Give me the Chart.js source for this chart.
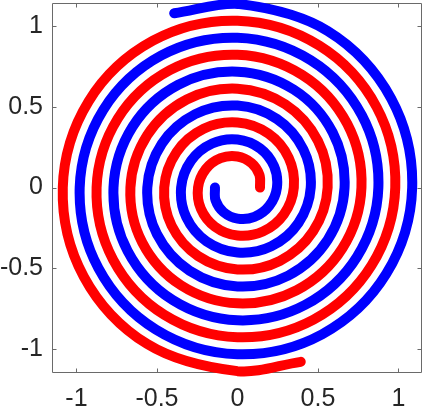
<!DOCTYPE html>
<html>
<head>
<meta charset="utf-8">
<script src="https://cdn.jsdelivr.net/npm/chart.js@4.4.1/dist/chart.umd.min.js"></script>
<style>
  html, body { margin: 0; padding: 0; background: #ffffff; }
  #wrap { width: 423px; height: 408px; position: relative; }
</style>
</head>
<body>
<div id="wrap"><canvas id="c"></canvas></div>
<script>
// Red spiral points (inner end -> outer end)
const redX = [0.140, 0.1364, 0.0875, 0, -0.105, -0.197, -0.245, -0.2273, -0.14, 0, 0.1575, 0.288,
  0.35, 0.3183, 0.1925, 0, -0.21, -0.3789, -0.455, -0.4092, -0.245, 0, 0.2625, 0.4698,
  0.56, 0.5001, 0.2975, 0, -0.315, -0.5607, -0.665, -0.5911, -0.35, 0, 0.3675, 0.6517,
  0.77, 0.682, 0.4025, 0, -0.42, -0.7426, -0.875, -0.7729, -0.455, 0, 0.4725, 0.8335,
  0.98, 0.8639, 0.5075, 0, -0.525, -0.9245, -1.085, -0.9548, -0.56, 0, 0.393];
const redY = [0, 0.0788, 0.1516, 0.1925, 0.1819, 0.1138, 0, -0.1313, -0.2425, -0.2975, -0.2728, -0.1663,
  0, 0.1838, 0.3334, 0.4025, 0.3637, 0.2188, 0, -0.2363, -0.4244, -0.5075, -0.4547, -0.2713,
  0, 0.2888, 0.5153, 0.6125, 0.5456, 0.3238, 0, -0.3413, -0.6062, -0.7175, -0.6365, -0.3763,
  0, 0.3938, 0.6971, 0.8225, 0.7275, 0.4288, 0, -0.4463, -0.7881, -0.9275, -0.8184, -0.4813,
  0, 0.4988, 0.879, 1.0325, 0.9093, 0.5338, 0, -0.5513, -0.9699, -1.1375, -1.0799];
// Blue spiral points (inner end -> outer end)
const blueX = [-0.140, -0.1364, -0.0875, 0, 0.105, 0.197, 0.245, 0.2273, 0.14, 0, -0.1575, -0.288,
  -0.35, -0.3183, -0.1925, 0, 0.21, 0.3789, 0.455, 0.4092, 0.245, 0, -0.2625, -0.4698,
  -0.56, -0.5001, -0.2975, 0, 0.315, 0.5607, 0.665, 0.5911, 0.35, 0, -0.3675, -0.6517,
  -0.77, -0.682, -0.4025, 0, 0.42, 0.7426, 0.875, 0.7729, 0.455, 0, -0.4725, -0.8335,
  -0.98, -0.8639, -0.5075, 0, 0.525, 0.9245, 1.085, 0.9548, 0.56, 0, -0.393];
const blueY = [0, -0.0788, -0.1516, -0.1925, -0.1819, -0.1138, 0, 0.1313, 0.2425, 0.2975, 0.2728, 0.1663,
  0, -0.1838, -0.3334, -0.4025, -0.3637, -0.2188, 0, 0.2363, 0.4244, 0.5075, 0.4547, 0.2713,
  0, -0.2888, -0.5153, -0.6125, -0.5456, -0.3238, 0, 0.3413, 0.6062, 0.7175, 0.6365, 0.3763,
  0, -0.3938, -0.6971, -0.8225, -0.7275, -0.4288, 0, 0.4463, 0.7881, 0.9275, 0.8184, 0.4813,
  0, -0.4988, -0.879, -1.0325, -0.9093, -0.5338, 0, 0.5513, 0.9699, 1.1375, 1.0799];

const tickValues = [-1, -0.5, 0, 0.5, 1];
const tickLabels = ['-1', '-0.5', '0', '0.5', '1'];
const xRange = [-1.152, 1.146];
const yRange = [-1.149, 1.143];

const toPoints = (xs, ys) => xs.map((x, i) => ({ x: x, y: ys[i] }));

const boxPlugin = {
  id: 'boxTicks',
  beforeDatasetsDraw(chart) {
    const { ctx, chartArea: a, scales } = chart;
    ctx.save();
    ctx.strokeStyle = '#6a6a6a';
    ctx.lineWidth = 1;
    ctx.beginPath();
    const L = Math.round(a.left) + 0.5, R = Math.round(a.right) - 0.5;
    const T = Math.round(a.top) + 0.5, B = Math.round(a.bottom) - 0.5;
    ctx.rect(L, T, R - L, B - T);
    const len = 4;
    tickValues.forEach(v => {
      const px = Math.round(scales.x.getPixelForValue(v)) + 0.5;
      ctx.moveTo(px, B); ctx.lineTo(px, B - len);
      ctx.moveTo(px, T); ctx.lineTo(px, T + len);
      const py = Math.round(scales.y.getPixelForValue(v)) + 0.5;
      ctx.moveTo(L, py); ctx.lineTo(L + len, py);
      ctx.moveTo(R, py); ctx.lineTo(R - len, py);
    });
    ctx.stroke();
    ctx.restore();
  }
};

const tickFont = { family: "'Liberation Sans', Arial, sans-serif", size: 25 };
const labelFor = v => {
  const i = tickValues.findIndex(t => Math.abs(t - v) < 1e-9);
  return i >= 0 ? tickLabels[i] : '';
};

new Chart(document.getElementById('c'), {
  type: 'scatter',
  data: {
    datasets: [
      {
        data: toPoints(redX, redY),
        showLine: true, pointRadius: 0, pointHoverRadius: 0,
        borderColor: 'rgb(255,0,0)', backgroundColor: 'rgb(255,0,0)',
        borderWidth: 10, tension: 0.35,
        borderCapStyle: 'round', borderJoinStyle: 'round', clip: false
      },
      {
        data: toPoints(blueX, blueY),
        showLine: true, pointRadius: 0, pointHoverRadius: 0,
        borderColor: 'rgb(0,0,255)', backgroundColor: 'rgb(0,0,255)',
        borderWidth: 10, tension: 0.35,
        borderCapStyle: 'round', borderJoinStyle: 'round', clip: false
      }
    ]
  },
  options: {
    responsive: true,
    maintainAspectRatio: false,
    devicePixelRatio: 1,
    animation: false,
    layout: { padding: { top: 3, right: 1, bottom: 0, left: 0 } },
    plugins: { legend: { display: false }, tooltip: { enabled: false } },
    scales: {
      x: {
        type: 'linear', position: 'bottom',
        min: xRange[0], max: xRange[1],
        grid: { display: false, drawTicks: false },
        border: { display: false },
        afterBuildTicks: s => { s.ticks = tickValues.map(v => ({ value: v })); },
        afterFit: s => { s.height = 35; s.paddingLeft = 0; s.paddingRight = 0; s.paddingTop = 0; s.paddingBottom = 0; },
        ticks: { font: tickFont, color: '#262626', padding: 11, maxRotation: 0, autoSkip: false,
                 callback: v => labelFor(v) }
      },
      y: {
        type: 'linear', position: 'left',
        min: yRange[0], max: yRange[1],
        grid: { display: false, drawTicks: false },
        border: { display: false },
        afterBuildTicks: s => { s.ticks = tickValues.map(v => ({ value: v })); },
        afterFit: s => { s.width = 52; s.paddingTop = 0; s.paddingBottom = 0; s.paddingLeft = 0; s.paddingRight = 0; },
        ticks: { font: tickFont, color: '#262626', padding: 9, autoSkip: false,
                 callback: v => labelFor(v) }
      }
    }
  },
  plugins: [boxPlugin]
});
</script>
</body>
</html>
